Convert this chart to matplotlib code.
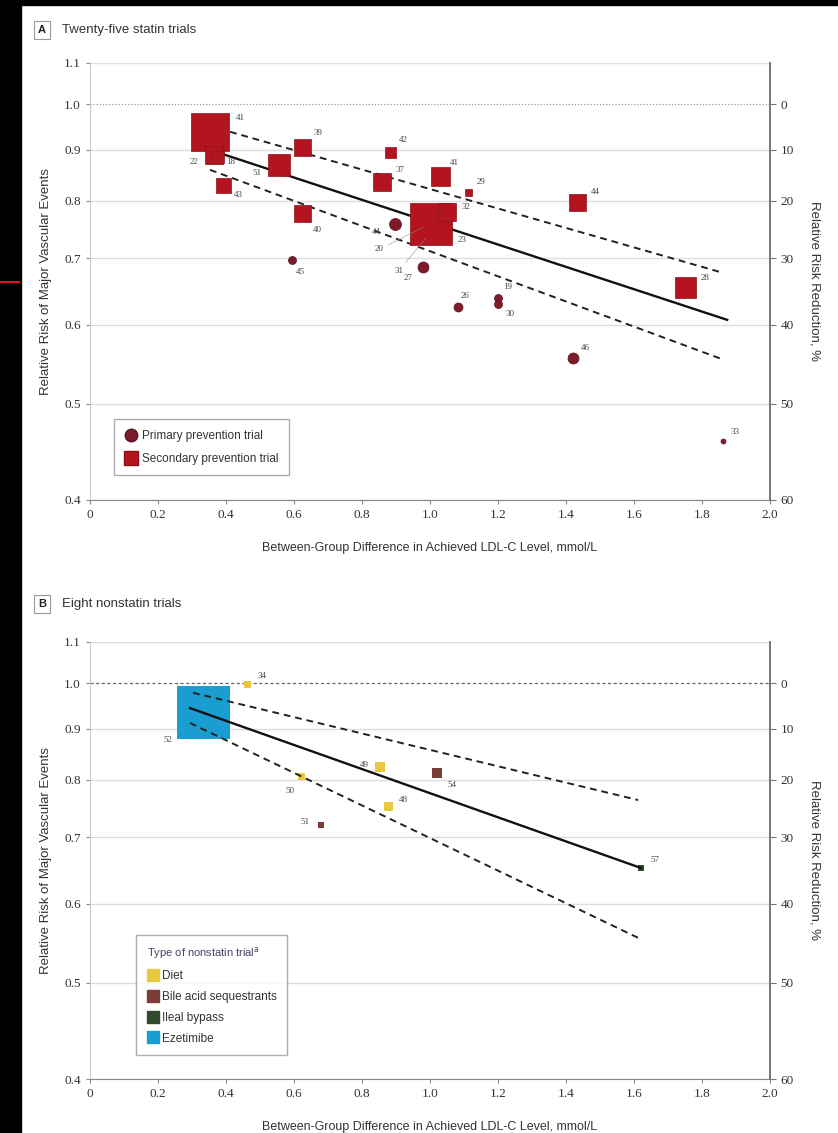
"""LDL-C lowering vs relative risk of major vascular events (statin / nonstatin trials)"""
import matplotlib.pyplot as plt
from matplotlib.patches import Rectangle
from matplotlib.lines import Line2D
from matplotlib.ticker import NullLocator, NullFormatter

plt.rcParams.update({
    'font.family': ['Liberation Sans', 'DejaVu Sans'],
    'font.size': 9,
})

DARK_RED = '#B3141F'
MAROON = '#7E1B2A'
DIET = '#E8C840'
BILE = '#7A3D37'
ILEAL = '#2F4A2C'
EZE = '#1A9ED2'
TXT = '#333333'

# ---- panel A: 25 statin trials ----
a_x = [0.353, 0.365, 0.375, 0.390, 0.556, 0.623, 0.623, 0.594, 0.882, 0.858, 0.897,
       1.003, 1.050, 0.979, 1.029, 1.112, 1.432, 1.750, 1.083, 1.200, 1.200, 1.421, 1.862]
a_rr = [0.938, 0.889, 0.884, 0.829, 0.869, 0.906, 0.777, 0.697, 0.895, 0.835, 0.758,
        0.758, 0.779, 0.686, 0.847, 0.816, 0.798, 0.655, 0.626, 0.638, 0.630, 0.556, 0.459]
a_kind = ['s', 's', 's', 's', 's', 's', 's', 'o', 's', 's', 'o',
          's', 's', 'o', 's', 's', 's', 's', 'o', 'o', 'o', 'o', 'o']
a_size = [38, 18, 12, 15, 22, 17, 17, 8, 11, 18, 12,
          43, 18, 11, 19, 7, 17, 21, 9, 8, 8, 11, 5]
a_lab = ['41', '22', '18', '43', '51', '39', '40', '45', '42', '37', '44',
         '23', '32', '27', '41', '29', '44', '28', '26', '19', '30', '46', '33']
a_off = [(30, 14), (-20, -7), (13, -5), (16, -10), (-22, -8), (16, 14), (16, -17), (8, -12),
         (13, 12), (18, 12), (-19, -8), (31, -16), (19, 5), (-15, -11), (15, 13), (13, 10),
         (18, 10), (20, 9), (7, 11), (10, 11), (12, -10), (12, 10), (12, 9)]
# trials hidden under the big square, labelled with leader lines
a_hidden_lab = ['20', '31']
a_hidden_xy = [(0.98, 0.752), (0.99, 0.735)]
a_hidden_off = [(-44, -22), (-28, -34)]

a_fit_x, a_fit_rr = [0.338, 1.874], [0.903, 0.607]
a_up_x, a_up_rr = [0.412, 1.86], [0.938, 0.677]
a_lo_x, a_lo_rr = [0.353, 1.86], [0.859, 0.554]

# ---- panel B: 8 nonstatin trials ----
b_x = [0.333, 0.462, 0.623, 0.679, 0.853, 0.877, 1.020, 1.620]
b_rr = [0.935, 0.998, 0.805, 0.720, 0.823, 0.751, 0.812, 0.652]
b_type = ['Ezetimibe', 'Diet', 'Diet', 'Bile acid sequestrants', 'Diet', 'Diet',
          'Bile acid sequestrants', 'Ileal bypass']
b_size = [53, 7, 7, 6, 10, 9, 10, 6]
b_lab = ['52', '34', '50', '51', '49', '48', '54', '57']
b_off = [(-35, -28), (15, 8), (-12, -14), (-16, 3), (-16, 2), (15, 7), (15, -12), (14, 8)]
type_names = ['Diet', 'Bile acid sequestrants', 'Ileal bypass', 'Ezetimibe']
type_colors = [DIET, BILE, ILEAL, EZE]

b_fit_x, b_fit_rr = [0.294, 1.62], [0.944, 0.652]
b_up_x, b_up_rr = [0.303, 1.612], [0.978, 0.763]
b_lo_x, b_lo_rr = [0.294, 1.615], [0.912, 0.554]

rr_ticks = [0.4, 0.5, 0.6, 0.7, 0.8, 0.9, 1.0, 1.1]
x_ticks = [0, 0.2, 0.4, 0.6, 0.8, 1.0, 1.2, 1.4, 1.6, 1.8, 2.0]
x_labels = ['0', '0.2', '0.4', '0.6', '0.8', '1.0', '1.2', '1.4', '1.6', '1.8', '2.0']
rrr_ticks = [0, 10, 20, 30, 40, 50, 60]

fig = plt.figure(figsize=(8.38, 11.33), dpi=100)
axA = fig.add_axes([90 / 838, 1 - 500 / 1133, 680 / 838, 437 / 1133])
axB = fig.add_axes([90 / 838, 1 - 1079 / 1133, 680 / 838, 437 / 1133])


def style_axes(ax, ref_style, ref_color):
    ax.set_yscale('log')
    ax.set_ylim(0.4, 1.1)
    ax.set_xlim(0, 2.0)
    ax.yaxis.set_minor_locator(NullLocator())
    ax.yaxis.set_minor_formatter(NullFormatter())
    ax.set_yticks(rr_ticks)
    ax.set_yticklabels([f'{v:.1f}' for v in rr_ticks], family='Liberation Serif')
    ax.set_xticks(x_ticks)
    ax.set_xticklabels(x_labels, family='Liberation Serif')
    ax.tick_params(colors='#888888', labelcolor=TXT, labelsize=9.5, length=3, width=0.8)
    for v in rr_ticks:
        if v == 1.0:
            ax.axhline(v, color=ref_color, lw=0.9, ls=ref_style, zorder=1)
        else:
            ax.axhline(v, color='#dddddd', lw=1.0, zorder=0)
    ax.spines['top'].set_visible(False)
    ax.spines['left'].set_color('#cccccc')
    ax.spines['bottom'].set_color('#888888')
    ax.spines['right'].set_color('#777777')
    ax.spines['right'].set_linewidth(1.2)
    ax.set_xlabel('Between-Group Difference in Achieved LDL-C Level, mmol/L',
                  fontsize=9, color=TXT, labelpad=15)
    ax.set_ylabel('Relative Risk of Major Vascular Events', fontsize=9.5, color=TXT, labelpad=9)

    ax2 = ax.twinx()
    ax2.set_yscale('log')
    ax2.set_ylim(0.4, 1.1)
    ax2.yaxis.set_minor_locator(NullLocator())
    ax2.yaxis.set_minor_formatter(NullFormatter())
    ax2.set_yticks([1 - r / 100 for r in rrr_ticks])
    ax2.set_yticklabels([str(r) for r in rrr_ticks], family='Liberation Serif')
    ax2.tick_params(colors='#777777', labelcolor=TXT, labelsize=9.5, length=4, width=0.8)
    for s in ['top', 'left', 'bottom']:
        ax2.spines[s].set_visible(False)
    ax2.spines['right'].set_color('#777777')
    ax2.spines['right'].set_linewidth(1.2)
    ax2.set_ylabel('Relative Risk Reduction, %', fontsize=9.5, color=TXT, rotation=270, labelpad=19)


def fit_lines(ax, fx, fr, ux, ur, lx, lr, z):
    ax.plot(fx, fr, color='#111111', lw=1.7, zorder=z)
    ax.plot(ux, ur, color='#222222', lw=1.4, ls=(0, (3.5, 2.5)), zorder=z)
    ax.plot(lx, lr, color='#222222', lw=1.4, ls=(0, (3.5, 2.5)), zorder=z)


# ---- panel A ----
style_axes(axA, (0, (1, 1.5)), '#999999')
fit_lines(axA, a_fit_x, a_fit_rr, a_up_x, a_up_rr, a_lo_x, a_lo_rr, 2)
order = sorted(range(len(a_x)), key=lambda i: -a_size[i])
for i in order:
    col = DARK_RED if a_kind[i] == 's' else MAROON
    edge = '#8c1019' if a_kind[i] == 's' else '#5a1220'
    axA.scatter(a_x[i], a_rr[i], marker=a_kind[i], s=(a_size[i] * 0.72) ** 2,
                color=col, edgecolors=edge, linewidths=0.5, zorder=3)
    axA.annotate(a_lab[i], (a_x[i], a_rr[i]), xytext=a_off[i], textcoords='offset pixels',
                 ha='center', va='center', fontsize=6.5, color='#444444',
                 family='Liberation Serif', zorder=4)
for lab, xy, off in zip(a_hidden_lab, a_hidden_xy, a_hidden_off):
    axA.annotate(lab, xy, xytext=off, textcoords='offset pixels', ha='center', va='center',
                 fontsize=6.5, color='#444444', family='Liberation Serif', zorder=4,
                 arrowprops=dict(arrowstyle='-', color='#888888', lw=0.6, ls=':',
                                 shrinkA=2, shrinkB=0))
handlesA = [
    Line2D([], [], marker='o', ls='', color=MAROON, markeredgecolor='#5a1220', markersize=9),
    Line2D([], [], marker='s', ls='', color=DARK_RED, markeredgecolor='#8c1019', markersize=10),
]
legA = axA.legend(handlesA, ['Primary prevention trial', 'Secondary prevention trial'],
                  loc='lower left', bbox_to_anchor=(0.026, 0.043), fontsize=8.5,
                  frameon=True, fancybox=False, edgecolor='#999999', borderpad=0.9,
                  labelspacing=0.9, handletextpad=0.3, handlelength=1.2)
for t in legA.get_texts():
    t.set_color(TXT)

# ---- panel B ----
style_axes(axB, (0, (2.5, 2)), '#666666')
for i in range(len(b_x)):
    col = type_colors[type_names.index(b_type[i])]
    axB.scatter(b_x[i], b_rr[i], marker='s', s=(b_size[i] * 0.72) ** 2, color=col,
                edgecolors='none', zorder=2)
    axB.annotate(b_lab[i], (b_x[i], b_rr[i]), xytext=b_off[i], textcoords='offset pixels',
                 ha='center', va='center', fontsize=6.5, color='#444444',
                 family='Liberation Serif', zorder=4)
fit_lines(axB, b_fit_x, b_fit_rr, b_up_x, b_up_rr, b_lo_x, b_lo_rr, 3)
handlesB = [Line2D([], [], marker='s', ls='', color=c, markersize=8) for c in type_colors]
legB = axB.legend(handlesB, type_names, title='Type of nonstatin trial$^{\\mathrm{a}}$',
                  loc='lower left', bbox_to_anchor=(0.059, 0.041), fontsize=8.5,
                  title_fontsize=8, frameon=True, fancybox=False, edgecolor='#999999',
                  borderpad=0.9, labelspacing=0.75, handletextpad=0.3, handlelength=1.0,
                  alignment='left')
for t in legB.get_texts():
    t.set_color(TXT)
legB.get_title().set_color('#444466')

# ---- panel headings ----
for letter, title, y in [('A', 'Twenty-five statin trials', 30), ('B', 'Eight nonstatin trials', 604)]:
    fig.text(42 / 838, 1 - y / 1133, letter, ha='center', va='center', fontsize=8,
             fontweight='bold', color='#222222',
             bbox=dict(boxstyle='square,pad=0.35', fc='white', ec='#999999', lw=0.8))
    fig.text(62 / 838, 1 - y / 1133, title, ha='left', va='center', fontsize=9.5, color=TXT)

# scan border artefacts of the source picture
fig.patches.append(Rectangle((0, 0), 21 / 838, 1, transform=fig.transFigure,
                             color='black', zorder=10))
fig.patches.append(Rectangle((0, 1 - 5 / 1133), 1, 5 / 1133, transform=fig.transFigure,
                             color='black', zorder=10))
fig.lines.append(Line2D([0, 19 / 838], [1 - 282 / 1133] * 2, transform=fig.transFigure,
                        color='#e0102a', lw=1.5, zorder=11))

fig.savefig('out.png', dpi=100)
plt.close(fig)
